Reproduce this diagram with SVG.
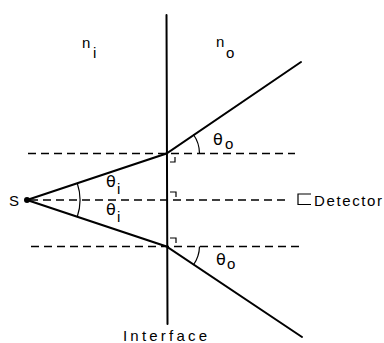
<svg xmlns="http://www.w3.org/2000/svg" width="384" height="343" viewBox="0 0 384 343">
<style>
.solid{stroke:#000;stroke-width:2;fill:none;stroke-linecap:round}
.dash{stroke:#000;stroke-width:1.5;fill:none;stroke-dasharray:8 5}
.thin{stroke:#000;stroke-width:1.2;fill:none}
text{font-family:"Liberation Sans",Arial,sans-serif;fill:#000}
.lbl{font-size:15px}
.sub{font-size:15px}
.th{font-family:"DejaVu Sans",sans-serif;font-size:16px}
</style>
<rect width="384" height="343" fill="#fff"/>
<g id="connectors">
<line class="dash" x1="28" y1="153.5" x2="295" y2="153.5"/>
<line class="dash" x1="30" y1="200" x2="288" y2="200"/>
<line class="dash" x1="31" y1="246.5" x2="303" y2="246.5"/>
<polyline class="solid" points="27,200 166.5,153.5 301,62"/>
<polyline class="solid" points="27,200 166.5,246.5 302,337"/>
<path class="thin" d="M77.2,183 A53,53 0 0 1 77.2,217"/>
<path class="thin" d="M193.4,134.5 A33,33 0 0 1 199.5,153.5"/>
<path class="thin" d="M199.5,246.5 A33,33 0 0 1 193.4,265"/>
<path class="thin" d="M170,162 H175 V157"/>
<path class="thin" d="M170,192 H176 V197"/>
<path class="thin" d="M170,238 H176 V243"/>
</g>
<g id="interface">
<line class="solid" x1="166.5" y1="15" x2="167.5" y2="324" stroke-width="1.8"/>
<text class="lbl" x="123" y="341" textLength="84" lengthAdjust="spacing">Interface</text>
</g>
<g id="source">
<circle cx="27" cy="200" r="3"/>
<text class="lbl" x="9" y="206">S</text>
</g>
<g id="detector">
<path class="thin" d="M311,194 H298 V204.5 H311"/>
<text class="lbl" x="314" y="205.5" textLength="68" lengthAdjust="spacing">Detector</text>
</g>
<g id="media-labels">
<text class="lbl" x="82" y="48">n</text><text class="sub" x="93" y="58">i</text>
<text class="lbl" x="216" y="47">n</text><text class="sub" x="226" y="58">o</text>
</g>
<g id="angle-labels">
<text class="th" x="106" y="187">θ</text><text class="sub" x="117" y="194">i</text>
<text class="th" x="106" y="215">θ</text><text class="sub" x="117" y="222">i</text>
<text class="th" x="213" y="145">θ</text><text class="sub" x="225" y="149">o</text>
<text class="th" x="216" y="265">θ</text><text class="sub" x="227" y="269">o</text>
</g>
</svg>
